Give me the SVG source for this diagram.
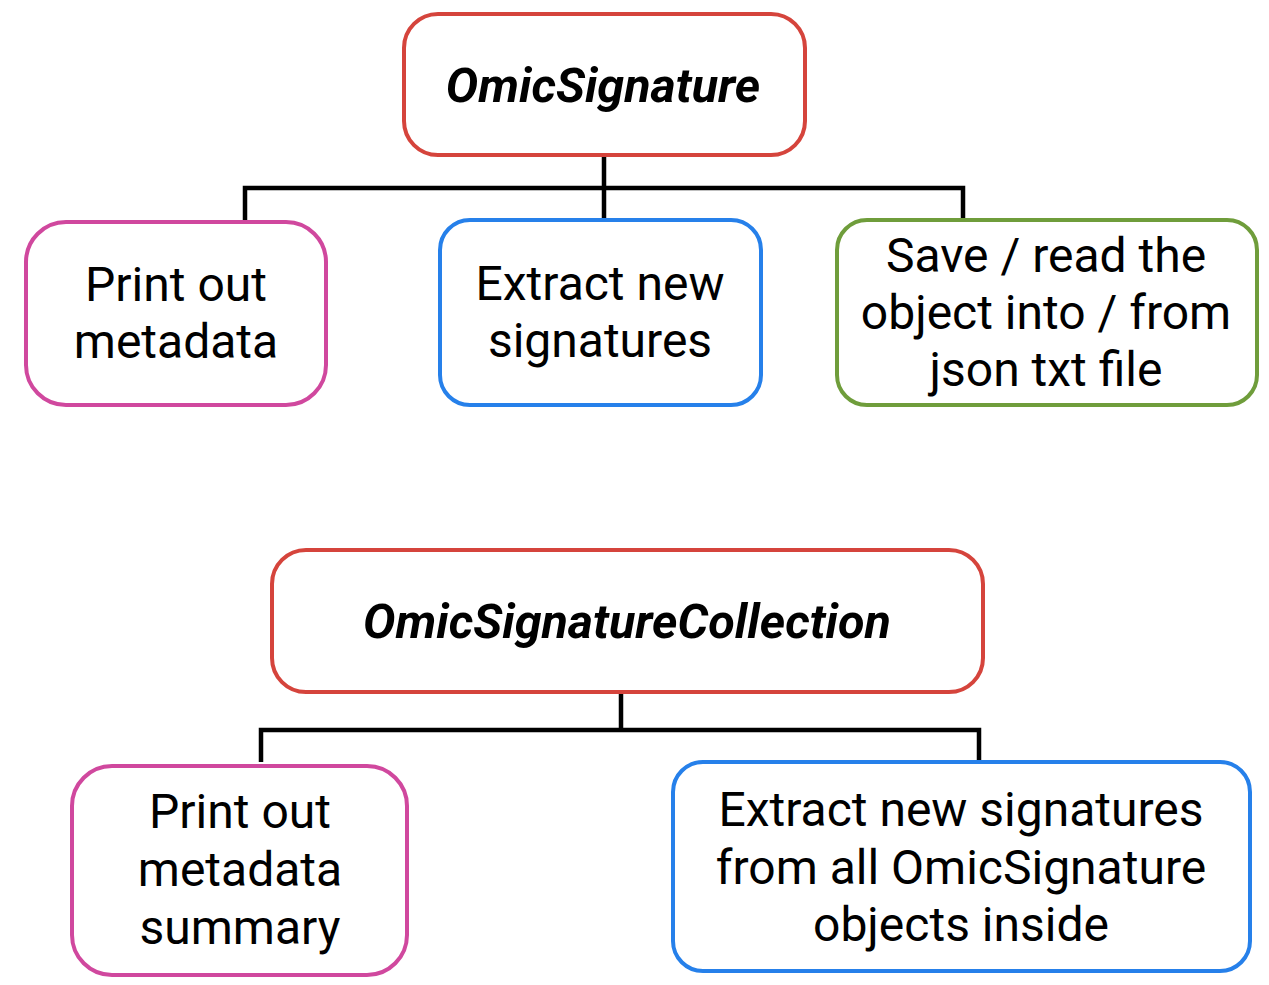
<svg xmlns="http://www.w3.org/2000/svg" width="1269" height="985" viewBox="0 0 1269 985">
<style>
.box{fill:#fff;stroke-width:4}
.red{stroke:#d5443c}
.pink{stroke:#d0489e}
.blue{stroke:#2680ea}
.green{stroke:#6f9d3b}
.t{font-family:Roboto,"Liberation Sans",sans-serif;font-size:48px;fill:#000;text-anchor:middle}
.ti{font-family:Roboto,"Liberation Sans",sans-serif;font-size:48.5px;font-weight:bold;font-style:italic;fill:#000;text-anchor:middle}
.c{fill:none;stroke:#000;stroke-width:4.5}
</style>
<rect width="1269" height="985" fill="#fff"/>
<g id="connectors">
<path class="c" d="M604 155V218M245 222V188H963V218"/>
<path class="c" d="M621 692V730M261 762V730H979V760"/>
</g>
<g id="omicsignature">
<rect class="box red" x="404" y="14" width="401" height="141" rx="34"/>
<text class="ti" x="603" y="102">OmicSignature</text>
</g>
<g id="print1">
<rect class="box pink" x="26" y="222" width="300" height="183" rx="40"/>
<text class="t" x="176" y="301">Print out</text>
<text class="t" x="176" y="358">metadata</text>
</g>
<g id="extract1">
<rect class="box blue" x="440" y="220" width="321" height="185" rx="30"/>
<text class="t" x="600" y="300">Extract new</text>
<text class="t" x="600" y="357">signatures</text>
</g>
<g id="saveread">
<rect class="box green" x="837" y="220" width="420" height="185" rx="30"/>
<text class="t" x="1046" y="272">Save / read the</text>
<text class="t" x="1046" y="329">object into / from</text>
<text class="t" x="1046" y="386">json txt file</text>
</g>
<g id="collection">
<rect class="box red" x="272" y="550" width="711" height="142" rx="34"/>
<text class="ti" x="627" y="638">OmicSignatureCollection</text>
</g>
<g id="print2">
<rect class="box pink" x="72" y="766" width="335" height="209" rx="40"/>
<text class="t" x="240" y="828">Print out</text>
<text class="t" x="240" y="886">metadata</text>
<text class="t" x="240" y="944">summary</text>
</g>
<g id="extract2">
<rect class="box blue" x="673" y="762" width="577" height="209" rx="30"/>
<text class="t" x="961" y="826">Extract new signatures</text>
<text class="t" x="961" y="884">from all OmicSignature</text>
<text class="t" x="961" y="941">objects inside</text>
</g>
</svg>
